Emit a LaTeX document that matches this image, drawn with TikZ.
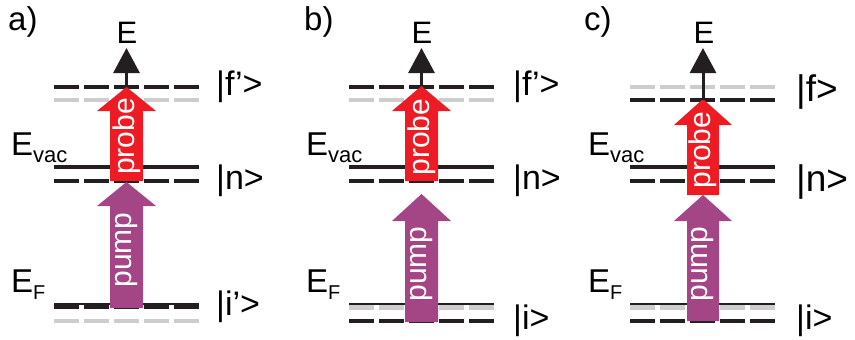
\documentclass[tikz,border=0pt]{standalone}
\usepackage{fontspec}
\setmainfont{Liberation Sans}
\usetikzlibrary{arrows.meta}
\definecolor{probered}{RGB}{237,28,36}
\definecolor{pumppurple}{RGB}{164,69,134}
\definecolor{levelgray}{RGB}{205,205,205}
\definecolor{levelblack}{RGB}{35,31,32}
\begin{document}
\begin{tikzpicture}[x=1pt, y=-1pt,
    solidlevel/.style={draw=levelblack, line width=4pt},
    thinlevel/.style={draw=levelblack, line width=1.8pt},
    dashlevel/.style={draw=levelblack, line width=4.5pt, dash pattern=on 24.5pt off 5.6pt},
    graylevel/.style={draw=levelgray, line width=4.5pt, dash pattern=on 24.5pt off 5.6pt},
    probefill/.style={fill=probered},
    pumpfill/.style={fill=pumppurple},
    arrowtext/.style={text=white, rotate=90, inner sep=0pt, font=\fontsize{30}{30}\selectfont},
    statelabel/.style={anchor=west, inner sep=0pt, font=\fontsize{34}{36}\selectfont},
    energylabel/.style={anchor=base west, inner sep=0pt, font=\fontsize{33}{36}\selectfont},
    panellabel/.style={anchor=west, inner sep=0pt, font=\fontsize{33}{34}\selectfont},
    axislabel/.style={inner sep=0pt, font=\fontsize{31}{32}\selectfont},
    earrow/.style={draw=levelblack, line width=3pt, -{Triangle[width=26pt, length=25pt]}}]
    \useasboundingbox (0,0) rectangle (855,340);

    % panel a
    \node[panellabel] (a-panel) at (8,22) {a)};
    \draw[dashlevel] (54,87) -- (199,87);
    \draw[graylevel] (54,100) -- (199,100);
    \draw[solidlevel] (54,167) -- (199,167);
    \draw[dashlevel] (54,181) -- (199,181);
    \draw[dashlevel] (54,306.5) -- (199,306.5);
    \draw[thinlevel] (54,304) -- (199,304);
    \draw[graylevel] (54,321) -- (199,321);
    \fill[pumpfill] (110,308) -- (110,206) -- (97,206) -- (126.5,182) -- (156,206) -- (143,206) -- (143,308) -- cycle;
    \fill[probefill] (110,181) -- (110,111) -- (97,111) -- (126.5,87) -- (156,111) -- (143,111) -- (143,181) -- cycle;
    \node[arrowtext] (a-pump) at (126.5,250) {pump};
    \node[arrowtext] (a-probe) at (126.5,136.5) {probe};
    \coordinate (a-start) at (126.5,87);
    \coordinate (a-tip) at (126.5,48);
    \draw[earrow] (a-start) -- (a-tip);
    \node[axislabel] (a-E) at (127,33) {E};
    \node[statelabel] (a-f) at (216,87) {|f’>};
    \node[statelabel] (a-n) at (216,181) {|n>};
    \node[statelabel] (a-i) at (216,307) {|i’>};
    \node[energylabel] (a-Evac) at (11,155) {E\raisebox{-7pt}{\fontsize{22}{22}\selectfont vac}};
    \node[energylabel] (a-EF) at (11,292) {E\raisebox{-7pt}{\fontsize{20}{22}\selectfont F}};

    % panel b
    \node[panellabel] (b-panel) at (304,22) {b)};
    \draw[dashlevel] (349,87) -- (494,87);
    \draw[graylevel] (349,100) -- (494,100);
    \draw[solidlevel] (349,167) -- (494,167);
    \draw[dashlevel] (349,181) -- (494,181);
    \draw[graylevel] (349,307.5) -- (494,307.5);
    \draw[thinlevel] (349,304) -- (494,304);
    \draw[dashlevel] (349,321) -- (494,321);
    \fill[pumpfill] (405,322) -- (405,221) -- (392,221) -- (421.5,194) -- (451,221) -- (438,221) -- (438,322) -- cycle;
    \fill[probefill] (405,181) -- (405,111) -- (392,111) -- (421.5,86) -- (451,111) -- (438,111) -- (438,181) -- cycle;
    \node[arrowtext] (b-pump) at (421.5,264) {pump};
    \node[arrowtext] (b-probe) at (421.5,137) {probe};
    \coordinate (b-start) at (421.5,86);
    \coordinate (b-tip) at (421.5,48);
    \draw[earrow] (b-start) -- (b-tip);
    \node[axislabel] (b-E) at (422,33) {E};
    \node[statelabel] (b-f) at (513,87) {|f’>};
    \node[statelabel] (b-n) at (513,181) {|n>};
    \node[statelabel] (b-i) at (513,321) {|i>};
    \node[energylabel] (b-Evac) at (306,155) {E\raisebox{-7pt}{\fontsize{22}{22}\selectfont vac}};
    \node[energylabel] (b-EF) at (306,292) {E\raisebox{-7pt}{\fontsize{20}{22}\selectfont F}};

    % panel c
    \node[panellabel] (c-panel) at (584,22) {c)};
    \draw[graylevel] (630,87) -- (775,87);
    \draw[dashlevel] (630,100) -- (775,100);
    \draw[solidlevel] (630,167) -- (775,167);
    \draw[dashlevel] (630,181) -- (775,181);
    \draw[graylevel] (630,307.5) -- (775,307.5);
    \draw[thinlevel] (630,304) -- (775,304);
    \draw[dashlevel] (630,321) -- (775,321);
    \fill[pumpfill] (687,321) -- (687,221) -- (674,221) -- (703,195) -- (732,221) -- (719,221) -- (719,321) -- cycle;
    \fill[probefill] (687,195) -- (687,125) -- (674,125) -- (703,99) -- (732,125) -- (719,125) -- (719,195) -- cycle;
    \node[arrowtext] (c-pump) at (703,264) {pump};
    \node[arrowtext] (c-probe) at (703,150) {probe};
    \coordinate (c-start) at (703,100);
    \coordinate (c-tip) at (703,48);
    \draw[earrow] (c-start) -- (c-tip);
    \node[axislabel] (c-E) at (704,33) {E};
    \node[statelabel, font=\fontsize{37}{38}\selectfont] (c-f) at (796,92) {|f>};
    \node[statelabel, font=\fontsize{37}{38}\selectfont] (c-n) at (796,182) {|n>};
    \node[statelabel] (c-i) at (796,321) {|i>};
    \node[energylabel] (c-Evac) at (588,155) {E\raisebox{-7pt}{\fontsize{22}{22}\selectfont vac}};
    \node[energylabel] (c-EF) at (588,292) {E\raisebox{-7pt}{\fontsize{20}{22}\selectfont F}};
\end{tikzpicture}
\end{document}
